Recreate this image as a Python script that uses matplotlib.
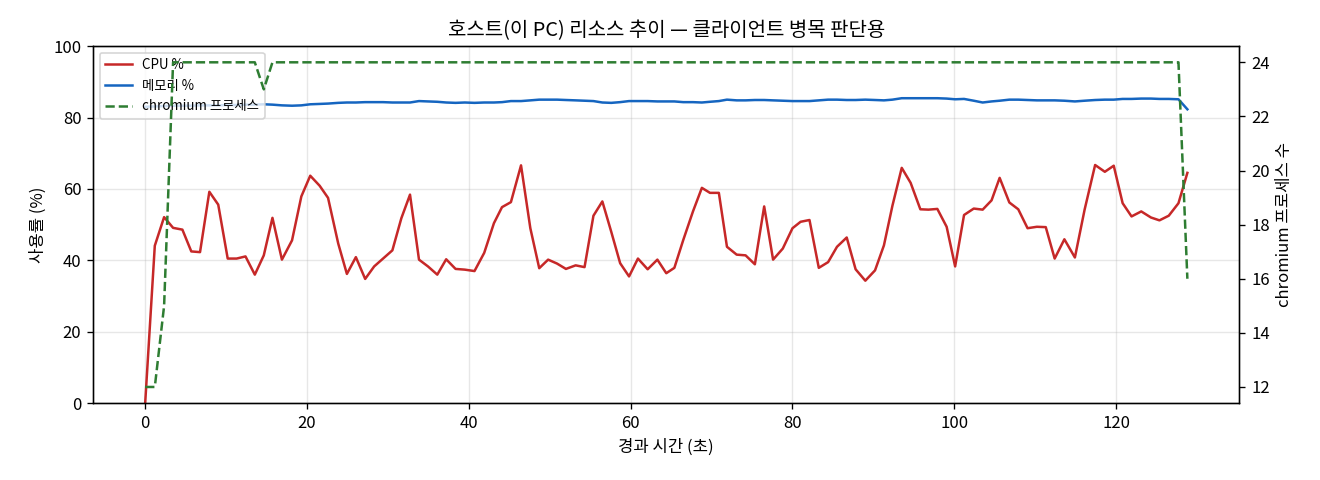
import matplotlib
matplotlib.use('Agg')
import matplotlib.pyplot as plt

plt.rcParams['font.family'] = ['Noto Sans CJK KR', 'DejaVu Sans']
plt.rcParams['axes.unicode_minus'] = False

# 경과 시간 (초) - 샘플 간격 약 1.13초
t = [0, 1.19, 2.34, 3.45, 4.6, 5.7, 6.78, 7.93, 9.03, 10.2,
     11.3, 12.4, 13.55, 14.66, 15.73, 16.9, 18.15, 19.3, 20.4, 21.56,
     22.6, 23.86, 24.93, 26.04, 27.19, 28.3, 29.4, 30.55, 31.66, 32.73,
     33.84, 34.95, 36.1, 37.2, 38.36, 39.5, 40.7, 41.9, 43.1, 44.1,
     45.2, 46.45, 47.6, 48.7, 49.8, 50.9, 52.0, 53.2, 54.3, 55.4,
     56.5, 57.6, 58.7, 59.8, 60.9, 62.1, 63.3, 64.4, 65.4, 66.5,
     67.7, 68.8, 69.8, 70.9, 71.9, 73.1, 74.2, 75.35, 76.5, 77.6,
     78.8, 80.0, 81.0, 82.1, 83.25, 84.4, 85.5, 86.7, 87.8, 89.0,
     90.2, 91.3, 92.35, 93.5, 94.6, 95.8, 96.8, 97.9, 99.05, 100.1,
     101.2, 102.4, 103.5, 104.6, 105.6, 106.8, 107.9, 109.05, 110.2, 111.3,
     112.4, 113.6, 114.9, 116.1, 117.4, 118.6, 119.7, 120.8, 121.9, 123.1,
     124.3, 125.35, 126.5, 127.7, 128.8]

cpu = [0, 44.1, 52.1, 49.1, 48.6, 42.5, 42.3, 59.2, 55.6, 40.5,
       40.5, 41.1, 36.0, 41.4, 51.9, 40.2, 45.6, 57.9, 63.7, 60.9,
       57.5, 44.7, 36.2, 40.9, 34.8, 38.3, 40.5, 42.8, 51.8, 58.4,
       40.2, 38.3, 36.0, 40.3, 37.6, 37.4, 37.0, 42.1, 50.4, 54.9,
       56.3, 66.6, 49.0, 37.8, 40.2, 39.1, 37.6, 38.6, 38.1, 52.5,
       56.5, 48.0, 39.2, 35.5, 40.5, 37.5, 40.2, 36.4, 37.9, 45.7,
       53.7, 60.3, 58.9, 58.9, 43.8, 41.6, 41.4, 38.9, 55.1, 40.2,
       43.3, 49.0, 50.8, 51.3, 37.9, 39.5, 43.8, 46.4, 37.5, 34.3,
       37.2, 44.2, 55.3, 65.9, 61.7, 54.3, 54.2, 54.4, 49.4, 38.3,
       52.7, 54.5, 54.2, 56.8, 63.1, 56.2, 54.3, 49.0, 49.4, 49.3,
       40.5, 45.9, 40.8, 54.2, 66.7, 64.8, 66.5, 56.0, 52.3, 53.7,
       52.0, 51.2, 52.5, 56.0, 64.5]

mem = [83.0, 83.1, 83.2, 83.3, 83.3, 83.3, 83.4, 83.4, 83.4, 83.5,
       83.5, 83.6, 83.6, 83.7, 83.6, 83.4, 83.3, 83.4, 83.7, 83.8,
       83.9, 84.1, 84.2, 84.2, 84.3, 84.3, 84.3, 84.2, 84.2, 84.2,
       84.6, 84.5, 84.4, 84.2, 84.1, 84.2, 84.1, 84.2, 84.2, 84.3,
       84.6, 84.6, 84.8, 85.0, 85.0, 85.0, 84.9, 84.8, 84.7, 84.6,
       84.2, 84.1, 84.3, 84.6, 84.6, 84.6, 84.5, 84.5, 84.5, 84.3,
       84.3, 84.2, 84.4, 84.6, 85.0, 84.8, 84.8, 84.9, 84.9, 84.8,
       84.7, 84.6, 84.6, 84.6, 84.8, 85.0, 85.0, 84.9, 84.9, 85.0,
       84.9, 84.8, 85.0, 85.4, 85.4, 85.4, 85.4, 85.4, 85.3, 85.1,
       85.2, 84.7, 84.2, 84.5, 84.7, 85.0, 85.0, 84.9, 84.8, 84.8,
       84.8, 84.7, 84.5, 84.7, 84.9, 85.0, 85.0, 85.2, 85.2, 85.3,
       85.3, 85.2, 85.2, 85.1, 82.3]

chromium = [12, 12, 15, 24, 24, 24, 24, 24, 24, 24,
            24, 24, 24, 23, 24, 24, 24, 24, 24, 24,
            24, 24, 24, 24, 24, 24, 24, 24, 24, 24,
            24, 24, 24, 24, 24, 24, 24, 24, 24, 24,
            24, 24, 24, 24, 24, 24, 24, 24, 24, 24,
            24, 24, 24, 24, 24, 24, 24, 24, 24, 24,
            24, 24, 24, 24, 24, 24, 24, 24, 24, 24,
            24, 24, 24, 24, 24, 24, 24, 24, 24, 24,
            24, 24, 24, 24, 24, 24, 24, 24, 24, 24,
            24, 24, 24, 24, 24, 24, 24, 24, 24, 24,
            24, 24, 24, 24, 24, 24, 24, 24, 24, 24,
            24, 24, 24, 24, 16]

fig, ax1 = plt.subplots(figsize=(11, 4), dpi=120)
fig.subplots_adjust(left=0.0705, right=0.939, top=0.904, bottom=0.16)

line1, = ax1.plot(t, cpu, color='#c62828', lw=1.5, label='CPU %')
line2, = ax1.plot(t, mem, color='#1565c0', lw=1.5, label='메모리 %')
ax1.set_ylim(0, 100)
ax1.set_xlabel('경과 시간 (초)')
ax1.set_ylabel('사용률 (%)')
ax1.grid(alpha=0.3)

ax2 = ax1.twinx()
line3, = ax2.plot(t, chromium, color='#2e7d32', lw=1.5, ls='--', label='chromium 프로세스')
ax2.set_ylabel('chromium 프로세스 수')

lines = [line1, line2, line3]
ax1.legend(lines, [l.get_label() for l in lines], loc='upper left', fontsize=8)

ax1.set_title('호스트(이 PC) 리소스 추이 — 클라이언트 병목 판단용')

fig.savefig('out.png')
